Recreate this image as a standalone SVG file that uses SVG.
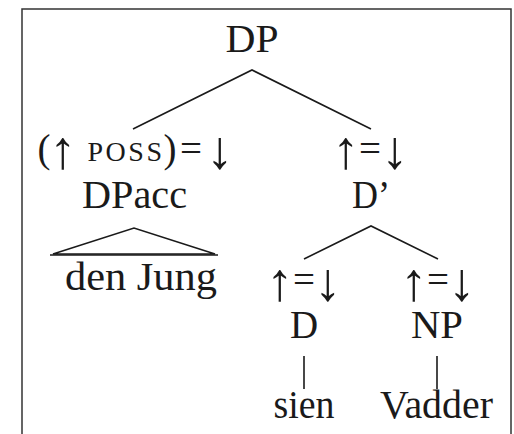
<svg xmlns="http://www.w3.org/2000/svg" width="514" height="434" viewBox="0 0 514 434">
<style>
text{font-family:"Liberation Serif","DejaVu Serif",serif;font-size:39px;fill:#1a1a1a;text-anchor:middle}
.sc{font-size:28px;letter-spacing:2.5px}
.ar{font-size:54px}
.e{stroke:#1a1a1a;stroke-width:1.6;fill:none}
</style>
<rect x="0" y="0" width="514" height="434" fill="#fff"/>
<rect x="22" y="9" width="489" height="450" fill="none" stroke="#333" stroke-width="1.5"/>
<g id="connectors">
<polyline class="e" points="133,129 252,70 371,129"/>
<polygon class="e" points="53,254 134,228 215,254"/>
<line class="e" x1="50" y1="255" x2="218" y2="255" stroke-width="2"/>
<polyline class="e" points="304,259 371,226 438,259"/>
<line class="e" x1="304" y1="356" x2="304" y2="389"/>
<line class="e" x1="437" y1="356" x2="437" y2="389"/>
</g>
<g id="node-DP"><text x="252" y="52" textLength="53" lengthAdjust="spacingAndGlyphs">DP</text></g>
<g id="node-DPacc">
<text><tspan x="44" y="162">(</tspan><tspan class="ar" x="63" y="168">↑</tspan><tspan class="sc" x="126" y="161">POSS</tspan><tspan x="170" y="162">)</tspan><tspan x="191" y="162">=</tspan><tspan class="ar" x="220" y="168">↓</tspan></text>
<text x="134.5" y="208" textLength="105" lengthAdjust="spacingAndGlyphs">DPacc</text>
</g>
<g id="node-DJung"><text x="141" y="290" textLength="152" lengthAdjust="spacingAndGlyphs">den Jung</text></g>
<g id="node-Dbar">
<text><tspan class="ar" x="346" y="168">↑</tspan><tspan x="370" y="162">=</tspan><tspan class="ar" x="395" y="168">↓</tspan></text>
<text x="371" y="208" textLength="38" lengthAdjust="spacingAndGlyphs">D’</text>
</g>
<g id="node-D">
<text><tspan class="ar" x="280" y="300">↑</tspan><tspan x="304" y="293">=</tspan><tspan class="ar" x="328" y="300">↓</tspan></text>
<text x="304" y="338">D</text>
</g>
<g id="node-NP">
<text><tspan class="ar" x="414" y="300">↑</tspan><tspan x="438" y="293">=</tspan><tspan class="ar" x="462" y="300">↓</tspan></text>
<text x="437" y="338" textLength="52" lengthAdjust="spacingAndGlyphs">NP</text>
</g>
<g id="node-sien"><text x="304" y="418" textLength="61" lengthAdjust="spacingAndGlyphs">sien</text></g>
<g id="node-Vadder"><text x="436.5" y="418" textLength="113" lengthAdjust="spacingAndGlyphs">Vadder</text></g>
</svg>
